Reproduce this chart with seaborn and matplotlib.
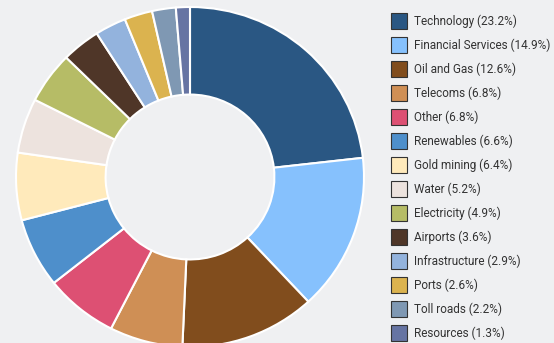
import matplotlib
matplotlib.use("Agg")
import matplotlib.pyplot as plt
import seaborn as sns
from matplotlib.patches import Patch

categories = ["Technology", "Financial Services", "Oil and Gas", "Telecoms", "Other",
              "Renewables", "Gold mining", "Water", "Electricity", "Airports",
              "Infrastructure", "Ports", "Toll roads", "Resources"]
values = [23.2, 14.9, 12.6, 6.8, 6.8, 6.6, 6.4, 5.2, 4.9, 3.6, 2.9, 2.6, 2.2, 1.3]
colors = ["#2a5783", "#86c1fd", "#814d1d", "#cf8f55", "#dd5073", "#4e8fcb", "#ffeabb",
          "#ede3de", "#b6bc66", "#4f3628", "#93b3dd", "#dbb34f", "#7f98b3", "#6674a3"]
labels = [f"{c} ({v}%)" for c, v in zip(categories, values)]

bg = "#eff0f2"
sns.set_theme(style="white", rc={"figure.facecolor": bg, "axes.facecolor": bg})
plt.rcParams['font.family'] = ['Roboto', 'DejaVu Sans']

W, H = 554, 343
fig = plt.figure(figsize=(W / 100, H / 100), dpi=100)
cx, cy, rx, ry = 190, 177, 174, 170
ax = fig.add_axes([(cx - rx) / W, (H - cy - ry) / H, 2 * rx / W, 2 * ry / H])
ax.pie(values, colors=colors, startangle=90, counterclock=False, radius=1,
       wedgeprops=dict(width=0.515, edgecolor="white", linewidth=1.5))
ax.set_xlim(-1, 1)
ax.set_ylim(-1, 1)
ax.set_aspect("auto")
ax.axis("off")

fs = 8.5
fs_px = fs * 100 / 72
box = 16
hh = (box / fs_px - 0.245) / 0.65
handles = [Patch(facecolor=c, edgecolor="#333333", linewidth=0.8) for c in colors]
leg = fig.legend(handles, labels, loc="upper left", bbox_to_anchor=(391 / W, 1 - 13 / H),
                 frameon=False, fontsize=fs, handlelength=box / fs_px, handleheight=hh,
                 labelspacing=8 / fs_px, handletextpad=7 / fs_px, borderpad=0, borderaxespad=0)
for t in leg.get_texts():
    t.set_color("#333333")

fig.savefig("out.png", dpi=100, facecolor=bg)
